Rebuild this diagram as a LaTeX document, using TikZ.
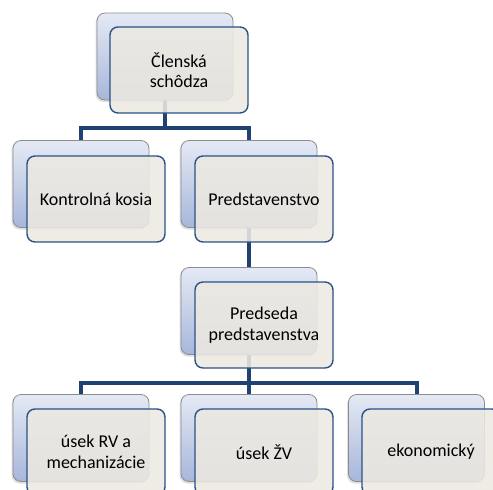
\documentclass[tikz,border=0pt]{standalone}
\usepackage{fontspec}
\setmainfont{Carlito}
\usetikzlibrary{backgrounds,shadows}

\definecolor{backtop}{HTML}{E4E9F4}
\definecolor{backbot}{HTML}{A7B6DA}
\definecolor{backline}{HTML}{8C8C8C}
\definecolor{frontfill}{HTML}{ECE9E1}
\definecolor{frontline}{HTML}{2A5286}
\definecolor{linkcol}{HTML}{1F4273}

\tikzset{
  backbox/.style={rectangle, rounded corners=8pt, minimum width=136pt, minimum height=87pt,
    draw=backline, line width=0.8pt, top color=backtop, bottom color=backbot,
    drop shadow={shadow xshift=-1.5pt, shadow yshift=-2pt, opacity=0.25}},
  frontbox/.style={rectangle, rounded corners=8pt, minimum width=138pt, minimum height=86pt,
    draw=frontline, line width=1.4pt, fill=frontfill, fill opacity=0.88, text opacity=1,
    align=center, font=\fontsize{18}{20.5}\selectfont},
  link/.style={draw=linkcol, line width=4pt, line cap=rect}
}

\begin{document}
\begin{tikzpicture}[x=1pt, y=-1pt]
		    \useasboundingbox (0,0) rectangle (493,490);
		    \clip (0,0) rectangle (493,490);
		    % level 1
		    \node (clenB) at (165, 56.5) [backbox] {};
		    \node (clen) at (179, 70) [frontbox] {Členská\\schôdza};
		    % level 2
		    \node (kontB) at (81, 184) [backbox] {};
		    \node (kont) at (96, 199) [frontbox] {Kontrolná kosia};
		    \node (predB) at (249, 184) [backbox] {};
		    \node (pred) at (264, 199) [frontbox] {Predstavenstvo};
		    % level 3
		    \node (psedB) at (249, 311) [backbox] {};
		    \node (psed) at (264, 325) [frontbox] {Predseda\\predstavenstva};
		    % level 4
		    \node (rvB) at (81, 438) [backbox] {};
		    \node (rv) at (96, 452) [frontbox] {úsek RV a\\mechanizácie};
		    \node (zvB) at (249, 438) [backbox] {};
		    \node (zv) at (264, 452) [frontbox] {úsek ŽV};
		    \node (ekoB) at (416.5, 438) [backbox] {};
		    \node (eko) at (431, 452) [frontbox] {ekonomický};
		    
		    \begin{scope}[on background layer]
		    \draw[link] (clenB.south) -- ++(0,28) -| (kontB.north);
		    \draw[link] (clenB.south) -- ++(0,28) -| (predB.north);
		    \draw[link] (predB.south) -- (psedB.north);
		    \draw[link] (psedB.south) -- ++(0,28) -| (rvB.north);
		    \draw[link] (psedB.south) -- ++(0,28) -| (zvB.north);
		    \draw[link] (psedB.south) -- ++(0,28) -| (ekoB.north);
		    \end{scope}
		\end{tikzpicture}
\end{document}
